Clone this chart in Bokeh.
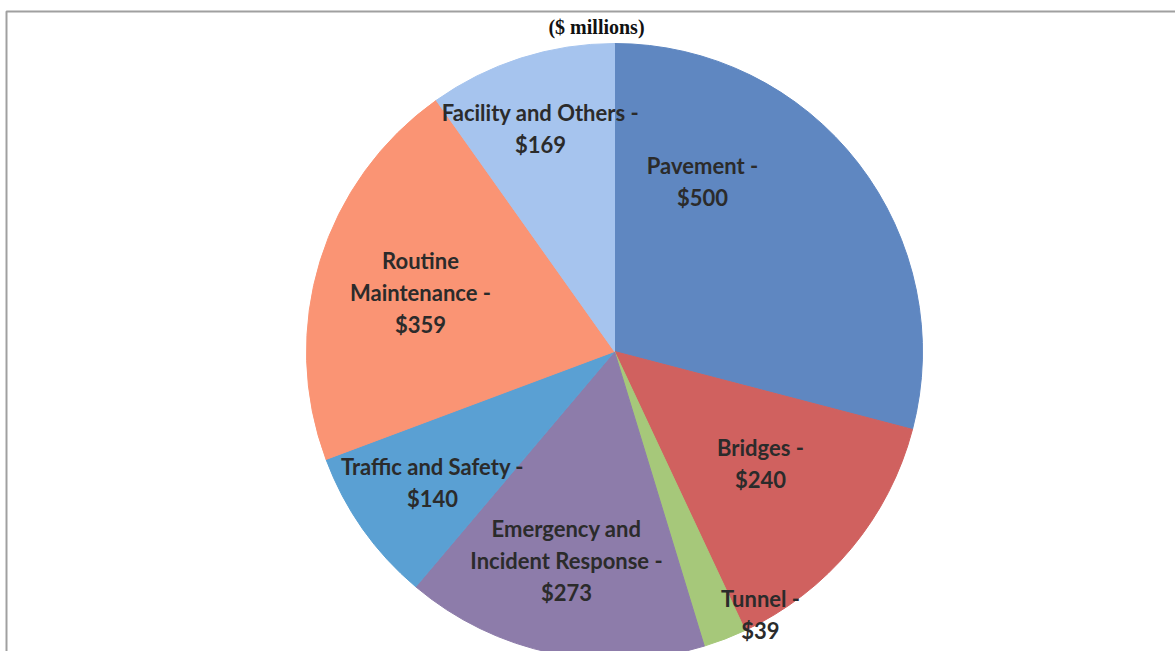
import math
from bokeh.plotting import figure
from bokeh.models import ColumnDataSource
from bokeh.core.properties import value
from bokeh.embed import file_html
from bokeh.resources import INLINE

# ---- data ----
categories = ["Pavement", "Bridges", "Tunnel", "Emergency and\nIncident Response",
              "Traffic and Safety", "Routine\nMaintenance", "Facility and Others"]
amounts = [500, 240, 39, 273, 140, 359, 169]
colors = ["#5F87C1", "#D0615F", "#A6C87A", "#8D7CAA", "#5AA0D3", "#FA9474", "#A6C4EE"]
title_text = "($ millions)"

# ---- layout in reference-pixel space (x right, y down) ----
W, H = 1175, 651
cx_px, cy_px, radius = 614, 351, 308
label_px = [(702, 181), (760, 463), (760, 614), (566, 560), (432, 482), (420, 292), (540, 128)]

def Y(ypx):
    return H - ypx

total = float(sum(amounts))
starts, ends = [], []
acc = 0.0
for a in amounts:
    starts.append(math.pi / 2 - 2 * math.pi * acc / total)
    acc += a
    ends.append(math.pi / 2 - 2 * math.pi * acc / total)

src = ColumnDataSource(dict(
    x=[cx_px] * len(amounts), y=[Y(cy_px)] * len(amounts),
    start=starts, end=ends, color=colors,
))

labels = [f"{c} -\n${a}" for c, a in zip(categories, amounts)]
lab_src = ColumnDataSource(dict(
    x=[p[0] for p in label_px], y=[Y(p[1]) for p in label_px], text=labels,
))

p = figure(width=W, height=H, x_range=(0, W), y_range=(0, H),
           output_backend="svg", toolbar_location=None, min_border=0)
p.axis.visible = False
p.xgrid.visible = False
p.ygrid.visible = False
p.outline_line_color = None
p.background_fill_color = "white"
p.border_fill_color = "white"

# frame lines of the scanned chart box
p.line(x=[6, 6, W], y=[0, Y(11), Y(11)], line_color="#A0A0A0", line_width=2)

p.wedge(x="x", y="y", radius=radius, start_angle="start", end_angle="end",
        direction="clock", fill_color="color", line_color="color", line_width=1,
        source=src)

p.text(x="x", y="y", text="text", source=lab_src, text_align="center",
       text_baseline="middle", text_font=value("Lato"), text_font_style="bold",
       text_font_size="22px", text_color="#2B2B2B", text_line_height=1.2)

p.text(x=[596], y=[Y(26)], text=[title_text], text_align="center",
       text_baseline="alphabetic", text_font=value("Liberation Serif"),
       text_font_style="bold", text_font_size="20px", text_color="#111111")

open("out.html", "w").write(file_html(p, INLINE))
